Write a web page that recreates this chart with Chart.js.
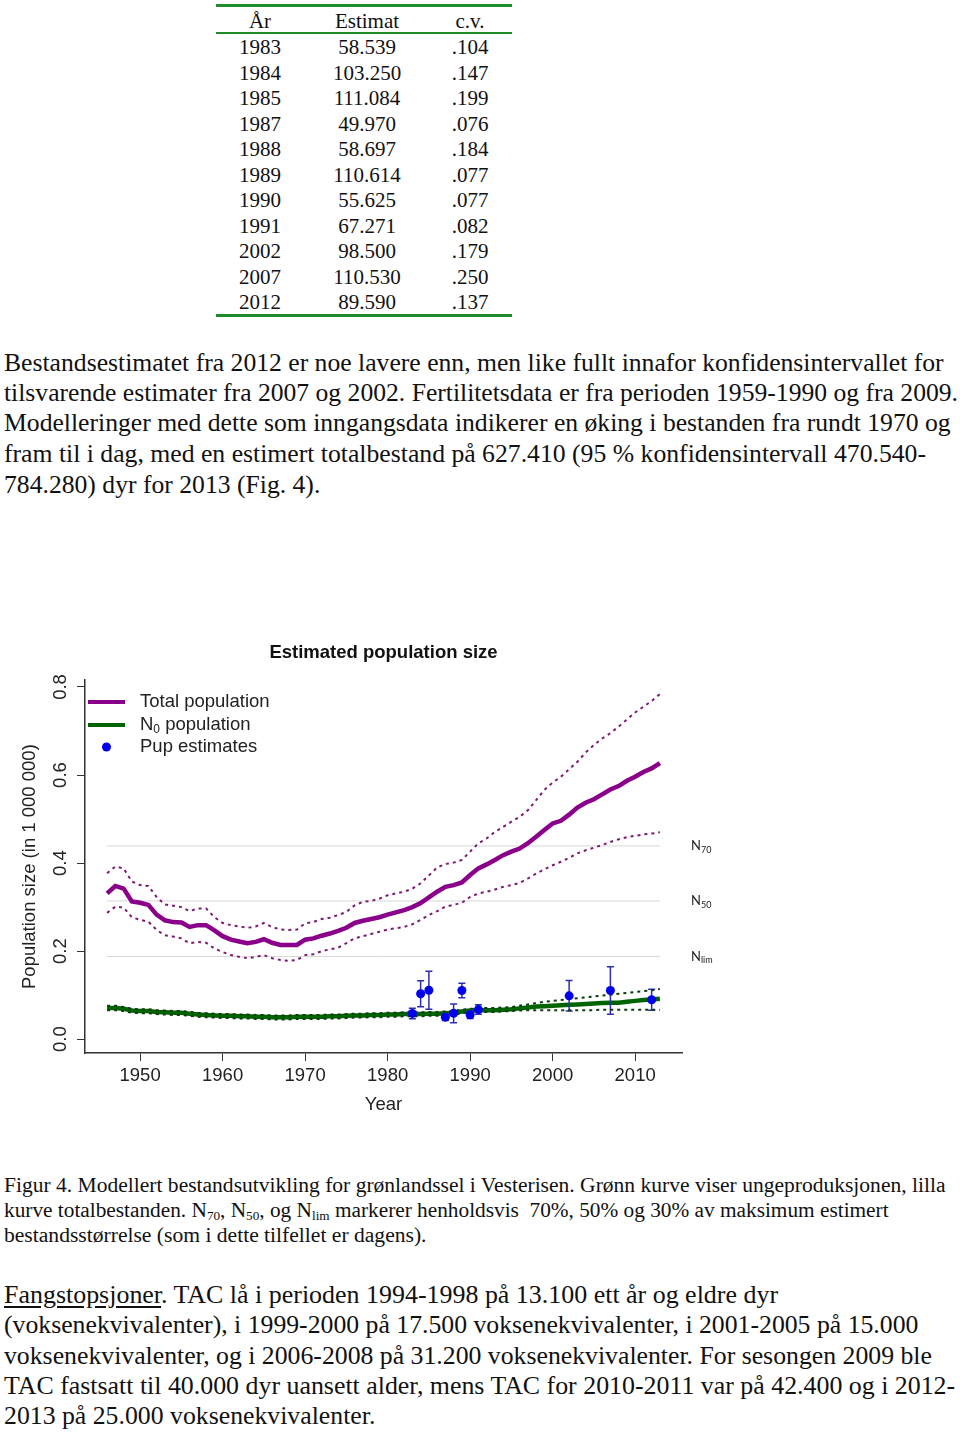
<!DOCTYPE html>
<html lang="no">
<head>
<meta charset="utf-8">
<title>Estimated population size</title>
<script src="https://cdn.jsdelivr.net/npm/chart.js@4.4.1/dist/chart.umd.min.js"></script>
<style>
  html, body { margin: 0; padding: 0; background: #fff; }
  body { width: 960px; height: 1434px; position: relative; overflow: hidden;
         font-family: "Liberation Serif", "Times New Roman", serif; color: #111; }
  .ln { position: absolute; left: 4px; height: 30px; line-height: 30px; font-size: 25px;
        white-space: nowrap; transform-origin: 0 50%; }
  .cap { height: 25px; line-height: 25px; font-size: 20px; }
  .rule { position: absolute; left: 216px; width: 296px; background: #1e8c28; }
  .row { position: absolute; left: 216px; width: 296px; height: 26px; line-height: 26px; font-size: 21px; }
  .row span { position: absolute; top: 0; transform: translateX(-50%); white-space: nowrap; }
  #chartBox { position: absolute; left: 0; top: 630px; width: 720px; height: 500px; }
  sub { font-size: 0.62em; line-height: 0; vertical-align: -0.25em; }
  u { text-underline-offset: 3px; }
</style>
</head>
<body>

<div id="table"></div>

<div class="ln" data-w="940" style="top:348px">Bestandsestimatet fra 2012 er noe lavere enn, men like fullt innafor konfidensintervallet for</div>
<div class="ln" data-w="954" style="top:378px">tilsvarende estimater fra 2007 og 2002. Fertilitetsdata er fra perioden 1959-1990 og fra 2009.</div>
<div class="ln" data-w="947" style="top:408px">Modelleringer med dette som inngangsdata indikerer en øking i bestanden fra rundt 1970 og</div>
<div class="ln" data-w="922" style="top:439px">fram til i dag, med en estimert totalbestand på 627.410 (95 % konfidensintervall 470.540-</div>
<div class="ln" data-w="316" style="top:470px">784.280) dyr for 2013 (Fig. 4).</div>

<div id="chartBox"><canvas id="chart"></canvas></div>

<div class="ln cap" data-w="942" style="top:1173px">Figur 4. Modellert bestandsutvikling for grønlandssel i Vesterisen. Grønn kurve viser ungeproduksjonen, lilla</div>
<div class="ln cap" data-w="885" style="top:1198px">kurve totalbestanden. N<sub>70</sub>, N<sub>50</sub>, og N<sub>lim</sub> markerer henholdsvis&nbsp; 70%, 50% og 30% av maksimum estimert</div>
<div class="ln cap" data-w="423" style="top:1223px">bestandsstørrelse (som i dette tilfellet er dagens).</div>

<div class="ln" data-w="774" style="top:1280px"><u>Fangstopsjoner</u>. TAC lå i perioden 1994-1998 på 13.100 ett år og eldre dyr</div>
<div class="ln" data-w="914" style="top:1310px">(voksenekvivalenter), i 1999-2000 på 17.500 voksenekvivalenter, i 2001-2005 på 15.000</div>
<div class="ln" data-w="928" style="top:1341px">voksenekvivalenter, og i 2006-2008 på 31.200 voksenekvivalenter. For sesongen 2009 ble</div>
<div class="ln" data-w="951" style="top:1371px">TAC fastsatt til 40.000 dyr uansett alder, mens TAC for 2010-2011 var på 42.400 og i 2012-</div>
<div class="ln" data-w="371" style="top:1401px">2013 på 25.000 voksenekvivalenter.</div>

<script>
// pup survey table (estimates in thousands)
const pupYears = [1983, 1984, 1985, 1987, 1988, 1989, 1990, 1991, 2002, 2007, 2012];
const pupEst = [58.539, 103.250, 111.084, 49.970, 58.697, 110.614, 55.625, 67.271, 98.500, 110.530, 89.590];
const pupCv = [0.104, 0.147, 0.199, 0.076, 0.184, 0.077, 0.077, 0.082, 0.179, 0.250, 0.137];

// model output, millions of animals, 1946-2013
const modelYears = [1946, 1947, 1948, 1949, 1950, 1951, 1952, 1953, 1954, 1955, 1956, 1957, 1958, 1959,
  1960, 1961, 1962, 1963, 1964, 1965, 1966, 1967, 1968, 1969, 1970, 1971, 1972, 1973, 1974, 1975, 1976,
  1977, 1978, 1979, 1980, 1981, 1982, 1983, 1984, 1985, 1986, 1987, 1988, 1989, 1990, 1991, 1992, 1993,
  1994, 1995, 1996, 1997, 1998, 1999, 2000, 2001, 2002, 2003, 2004, 2005, 2006, 2007, 2008, 2009, 2010,
  2011, 2012, 2013];
const totalPop = [0.331, 0.348, 0.342, 0.313, 0.310, 0.305, 0.283, 0.270, 0.266, 0.265, 0.255, 0.259,
  0.259, 0.247, 0.234, 0.226, 0.222, 0.218, 0.221, 0.227, 0.219, 0.214, 0.214, 0.214, 0.226, 0.229, 0.235,
  0.240, 0.246, 0.253, 0.264, 0.269, 0.273, 0.277, 0.283, 0.288, 0.293, 0.300, 0.309, 0.322, 0.335, 0.346,
  0.350, 0.356, 0.373, 0.388, 0.397, 0.407, 0.418, 0.426, 0.433, 0.445, 0.460, 0.475, 0.490, 0.496, 0.510,
  0.526, 0.537, 0.545, 0.556, 0.567, 0.575, 0.587, 0.596, 0.607, 0.615, 0.627];
const totalUpper = [0.377, 0.392, 0.388, 0.358, 0.350, 0.348, 0.323, 0.306, 0.303, 0.300, 0.291, 0.297,
  0.297, 0.277, 0.264, 0.259, 0.256, 0.253, 0.256, 0.264, 0.255, 0.249, 0.248, 0.249, 0.263, 0.266, 0.273,
  0.276, 0.282, 0.289, 0.304, 0.312, 0.314, 0.319, 0.327, 0.331, 0.335, 0.342, 0.354, 0.372, 0.390, 0.398,
  0.401, 0.407, 0.426, 0.445, 0.456, 0.471, 0.482, 0.494, 0.505, 0.520, 0.543, 0.566, 0.583, 0.596, 0.613,
  0.630, 0.651, 0.668, 0.683, 0.695, 0.710, 0.726, 0.742, 0.755, 0.768, 0.784];
const totalLower = [0.287, 0.301, 0.299, 0.277, 0.271, 0.267, 0.248, 0.236, 0.233, 0.229, 0.218, 0.221,
  0.219, 0.206, 0.198, 0.191, 0.187, 0.184, 0.187, 0.191, 0.184, 0.180, 0.178, 0.180, 0.191, 0.193, 0.200,
  0.204, 0.208, 0.218, 0.229, 0.234, 0.239, 0.244, 0.249, 0.252, 0.255, 0.261, 0.271, 0.282, 0.291, 0.301,
  0.305, 0.310, 0.323, 0.331, 0.335, 0.340, 0.346, 0.350, 0.355, 0.365, 0.376, 0.386, 0.395, 0.403, 0.412,
  0.422, 0.429, 0.435, 0.441, 0.448, 0.454, 0.459, 0.462, 0.465, 0.467, 0.470];
const pupPop = [0.071, 0.071, 0.069, 0.065, 0.064, 0.064, 0.062, 0.061, 0.060, 0.060, 0.058, 0.056, 0.055,
  0.054, 0.053, 0.053, 0.052, 0.052, 0.051, 0.051, 0.050, 0.050, 0.050, 0.051, 0.051, 0.051, 0.051, 0.052,
  0.052, 0.053, 0.054, 0.054, 0.055, 0.055, 0.056, 0.056, 0.057, 0.057, 0.057, 0.058, 0.058, 0.059, 0.060,
  0.063, 0.065, 0.066, 0.066, 0.066, 0.067, 0.068, 0.070, 0.072, 0.074, 0.075, 0.076, 0.077, 0.078, 0.079,
  0.080, 0.081, 0.082, 0.083, 0.083, 0.085, 0.087, 0.089, 0.090, 0.092];
const pupUpper = [0.076, 0.076, 0.073, 0.069, 0.068, 0.068, 0.066, 0.065, 0.064, 0.064, 0.062, 0.060, 0.059,
  0.058, 0.057, 0.057, 0.056, 0.056, 0.055, 0.055, 0.054, 0.054, 0.054, 0.055, 0.055, 0.055, 0.055, 0.056,
  0.056, 0.057, 0.058, 0.058, 0.059, 0.059, 0.060, 0.060, 0.061, 0.061, 0.061, 0.062, 0.062, 0.063, 0.064,
  0.067, 0.069, 0.070, 0.071, 0.071, 0.072, 0.073, 0.076, 0.079, 0.082, 0.085, 0.087, 0.089, 0.091, 0.093,
  0.095, 0.097, 0.099, 0.101, 0.103, 0.105, 0.107, 0.109, 0.111, 0.114];
const pupLower = [0.066, 0.066, 0.064, 0.060, 0.059, 0.059, 0.057, 0.056, 0.055, 0.055, 0.053, 0.051, 0.050,
  0.049, 0.048, 0.048, 0.047, 0.047, 0.046, 0.046, 0.045, 0.045, 0.045, 0.046, 0.046, 0.046, 0.046, 0.047,
  0.047, 0.048, 0.049, 0.049, 0.050, 0.050, 0.051, 0.051, 0.052, 0.052, 0.052, 0.053, 0.053, 0.054, 0.055,
  0.059, 0.061, 0.062, 0.062, 0.062, 0.063, 0.064, 0.065, 0.066, 0.066, 0.066, 0.066, 0.066, 0.066, 0.066,
  0.066, 0.066, 0.067, 0.067, 0.067, 0.067, 0.067, 0.067, 0.067, 0.067];

// reference levels: 70 %, 50 % and 30 % of the maximum estimate
const refNames = ["70", "50", "lim"];
const refValues = [0.439, 0.314, 0.188];

const xTicks = [1950, 1960, 1970, 1980, 1990, 2000, 2010];
const yTicks = [0, 0.2, 0.4, 0.6, 0.8];
const yTickLabels = ["0.0", "0.2", "0.4", "0.6", "0.8"];

// ---- table ----
const tableEl = document.getElementById("table");
function addRule(top, h) {
  const d = document.createElement("div");
  d.className = "rule";
  d.style.top = top + "px";
  d.style.height = h + "px";
  tableEl.appendChild(d);
}
function addRow(center, cells) {
  const r = document.createElement("div");
  r.className = "row";
  r.style.top = (center - 13) + "px";
  [44, 151, 254].forEach((cx, i) => {
    const s = document.createElement("span");
    s.style.left = cx + "px";
    s.textContent = cells[i];
    r.appendChild(s);
  });
  tableEl.appendChild(r);
}
addRule(4, 3);
addRow(21, ["År", "Estimat", "c.v."]);
addRule(31.5, 2);
pupYears.forEach((yr, i) => {
  addRow(47 + 25.5 * i, [String(yr), pupEst[i].toFixed(3), pupCv[i].toFixed(3).replace(/^0/, "")]);
});
addRule(314, 3);

// squeeze each text line to the measured width of the scanned page
document.querySelectorAll(".ln").forEach((el) => {
  const w = el.offsetWidth;
  el.style.transform = `scaleX(${Number(el.dataset.w) / w})`;
});

// ---- chart ----
const sans = "'Liberation Sans', Arial, sans-serif";
Chart.defaults.font.family = sans;
Chart.defaults.color = "#222";

const toXY = (vals) => vals.map((v, i) => ({ x: modelYears[i], y: v }));
const first = modelYears[0];
const last = modelYears[modelYears.length - 1];

const datasets = [];
refValues.forEach((v, i) => {
  datasets.push({
    label: "N" + refNames[i],
    data: [{ x: first, y: v }, { x: last, y: v }],
    borderColor: "#d6d6d6", borderWidth: 1, pointRadius: 0, order: 6,
  });
});
datasets.push(
  { label: "Total upper", data: toXY(totalUpper), borderColor: "#7d1a72", borderWidth: 2,
    borderDash: [3, 4], pointRadius: 0, order: 4 },
  { label: "Total lower", data: toXY(totalLower), borderColor: "#7d1a72", borderWidth: 2,
    borderDash: [3, 4], pointRadius: 0, order: 4 },
  { label: "Total population", data: toXY(totalPop), borderColor: "#8b008b", borderWidth: 4.5,
    pointRadius: 0, order: 3 },
  { label: "N0 population", data: toXY(pupPop), borderColor: "#006400", borderWidth: 4.5,
    pointRadius: 0, order: 2 },
  { label: "N0 upper", data: toXY(pupUpper), borderColor: "#0b3d0b", borderWidth: 2,
    borderDash: [3, 4], pointRadius: 0, order: 1.5 },
  { label: "N0 lower", data: toXY(pupLower), borderColor: "#0b3d0b", borderWidth: 2,
    borderDash: [3, 4], pointRadius: 0, order: 1.5 },
  { label: "Pup estimates", data: pupYears.map((yr, i) => ({ x: yr, y: pupEst[i] / 1000 })),
    showLine: false, pointRadius: 4.5, pointBackgroundColor: "#0000ee", pointBorderWidth: 0, order: 0 }
);

function drawText(ctx, text, x, y, font, align) {
  ctx.font = font;
  ctx.textAlign = align || "left";
  ctx.textBaseline = "middle";
  ctx.fillText(text, x, y);
  return ctx.measureText(text).width;
}

const overlay = {
  id: "overlay",
  afterDatasetDraw(chart, args) {
    // error bars sit between the pup curve and the survey points
    if (chart.data.datasets[args.index].label !== "N0 population") return;
    const { ctx, scales: { x, y } } = chart;
    ctx.save();
    ctx.strokeStyle = "#2d2db4";
    ctx.lineWidth = 1.5;
    pupYears.forEach((yr, i) => {
      const px = x.getPixelForValue(yr);
      const lo = y.getPixelForValue(pupEst[i] * (1 - 1.96 * pupCv[i]) / 1000);
      const hi = y.getPixelForValue(pupEst[i] * (1 + 1.96 * pupCv[i]) / 1000);
      ctx.beginPath();
      ctx.moveTo(px, lo); ctx.lineTo(px, hi);
      ctx.moveTo(px - 3.5, lo); ctx.lineTo(px + 3.5, lo);
      ctx.moveTo(px - 3.5, hi); ctx.lineTo(px + 3.5, hi);
      ctx.stroke();
    });
    ctx.restore();
  },
  afterDraw(chart) {
    const { ctx, scales: { x, y } } = chart;
    ctx.save();
    ctx.fillStyle = "#222";
    // rotated y tick labels
    yTicks.forEach((v, i) => {
      ctx.save();
      ctx.translate(61, y.getPixelForValue(v));
      ctx.rotate(-Math.PI / 2);
      drawText(ctx, yTickLabels[i], 0, 0, `18.5px ${sans}`, "center");
      ctx.restore();
    });
    // reference level labels
    const lab = "Lato, 'Open Sans', sans-serif";
    refValues.forEach((v, i) => {
      const py = y.getPixelForValue(v);
      const w = drawText(ctx, "N", 691, py, `13px ${lab}`);
      drawText(ctx, refNames[i], 691 + w, py + 4, `9px ${lab}`);
    });
    // legend
    const legY = [72, 95, 117];
    ctx.lineWidth = 4;
    ctx.strokeStyle = "#8b008b";
    ctx.beginPath(); ctx.moveTo(88, legY[0]); ctx.lineTo(125, legY[0]); ctx.stroke();
    ctx.strokeStyle = "#006400";
    ctx.beginPath(); ctx.moveTo(88, legY[1]); ctx.lineTo(125, legY[1]); ctx.stroke();
    ctx.fillStyle = "#0000ee";
    ctx.beginPath(); ctx.arc(106.5, legY[2], 4.5, 0, Math.PI * 2); ctx.fill();
    ctx.fillStyle = "#222";
    const f = `18.5px ${sans}`;
    drawText(ctx, "Total population", 140, legY[0], f);
    const wN = drawText(ctx, "N", 140, legY[1], f);
    const w0 = drawText(ctx, "0", 140 + wN, legY[1] + 5, `12px ${sans}`);
    drawText(ctx, " population", 140 + wN + w0, legY[1], f);
    drawText(ctx, "Pup estimates", 140, legY[2], f);
    ctx.restore();
  },
};

new Chart(document.getElementById("chart"), {
  type: "line",
  data: { datasets },
  plugins: [overlay],
  options: {
    responsive: true,
    maintainAspectRatio: false,
    devicePixelRatio: 1,
    animation: false,
    layout: { padding: { left: 0, right: 38, top: 0, bottom: 0 } },
    plugins: {
      legend: { display: false },
      tooltip: { enabled: false },
      title: {
        display: true,
        fullSize: false,
        text: "Estimated population size",
        color: "#111",
        font: { size: 18.5, weight: "bold" },
        padding: { top: 12, bottom: 16 },
      },
    },
    scales: {
      x: {
        type: "linear",
        min: 1943.32,
        max: 2015.68,
        afterBuildTicks: (s) => { s.ticks = xTicks.map((v) => ({ value: v })); },
        afterFit: (s) => { s.height = 77; },
        ticks: { font: { size: 18.5 }, color: "#222", padding: 4, maxRotation: 0,
                 callback: (v) => String(v) },
        grid: { drawOnChartArea: false, drawTicks: true, tickLength: 8, color: "#333" },
        border: { display: true, color: "#333", width: 1.5 },
        title: { display: true, text: "Year", color: "#222", font: { size: 18.5 },
                 padding: { top: 0, bottom: 14 } },
      },
      y: {
        type: "linear",
        min: -0.03136,
        max: 0.81536,
        afterBuildTicks: (s) => { s.ticks = yTicks.map((v) => ({ value: v })); },
        afterFit: (s) => { s.width = 85; },
        ticks: { display: false },
        grid: { drawOnChartArea: false, drawTicks: true, tickLength: 8, color: "#333" },
        border: { display: true, color: "#333", width: 1.5 },
        title: { display: true, text: "Population size (in 1 000 000)", color: "#222",
                 font: { size: 18.5 }, padding: { top: 19, bottom: 0 } },
      },
    },
  },
});
</script>
</body>
</html>
